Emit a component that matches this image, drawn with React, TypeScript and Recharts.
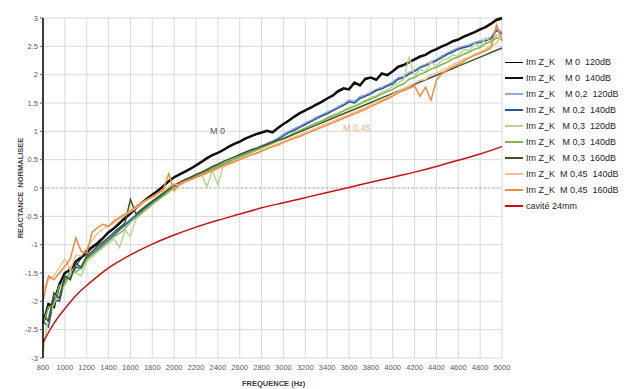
import React from 'react';
import { LineChart, Line, XAxis, YAxis, CartesianGrid, ReferenceLine } from 'recharts';

// frequences de mesure (pas de 50 Hz)
const freqs = [
  800, 850, 900, 950, 1000, 1050, 1100, 1150, 1200, 1250, 1300, 1350, 1400, 1450, 1500, 1550, 1600,
  1650, 1700, 1750, 1800, 1850, 1900, 1950, 2000, 2050, 2100, 2150, 2200, 2250, 2300, 2350, 2400,
  2450, 2500, 2550, 2600, 2650, 2700, 2750, 2800, 2850, 2900, 2950, 3000, 3050, 3100, 3150, 3200,
  3250, 3300, 3350, 3400, 3450, 3500, 3550, 3600, 3650, 3700, 3750, 3800, 3850, 3900, 3950, 4000,
  4050, 4100, 4150, 4200, 4250, 4300, 4350, 4400, 4450, 4500, 4550, 4600, 4650, 4700, 4750, 4800,
  4850, 4900, 4950, 5000,
];

const m0_120 = [
  -2.30, -2.12, -1.95, -1.68, -1.52, -1.40, -1.38, -1.24, -1.17, -1.06, -1.00, -0.90, -0.80, -0.72, -0.64, -0.55, -0.46,
  -0.37, -0.28, -0.20, -0.13, -0.06, 0.02, 0.10, 0.18, 0.23, 0.28, 0.34, 0.39, 0.45, 0.51, 0.57, 0.62,
  0.67, 0.72, 0.77, 0.82, 0.86, 0.91, 0.94, 0.97, 1.00, 1.00, 1.05, 1.12, 1.18, 1.25, 1.31, 1.37,
  1.41, 1.47, 1.51, 1.57, 1.63, 1.69, 1.74, 1.76, 1.83, 1.83, 1.91, 1.94, 1.93, 2.00, 2.01, 2.05,
  2.12, 2.17, 2.21, 2.26, 2.31, 2.35, 2.40, 2.44, 2.49, 2.53, 2.58, 2.62, 2.66, 2.70, 2.75, 2.79,
  2.84, 2.89, 2.95, 2.98,
];
const m0_140 = [
  -2.40, -2.05, -2.10, -1.70, -1.50, -1.45, -1.30, -1.22, -1.12, -1.04, -0.97, -0.88, -0.78, -0.71, -0.62, -0.53, -0.45,
  -0.35, -0.27, -0.19, -0.12, -0.05, 0.03, 0.12, 0.19, 0.24, 0.29, 0.34, 0.40, 0.46, 0.53, 0.58, 0.62,
  0.67, 0.73, 0.78, 0.82, 0.87, 0.91, 0.95, 0.98, 1.01, 0.98, 1.06, 1.13, 1.19, 1.26, 1.32, 1.37,
  1.42, 1.47, 1.52, 1.58, 1.63, 1.71, 1.76, 1.74, 1.86, 1.81, 1.93, 1.95, 1.91, 2.02, 1.99, 2.06,
  2.14, 2.17, 2.22, 2.27, 2.32, 2.35, 2.41, 2.45, 2.50, 2.54, 2.59, 2.62, 2.67, 2.71, 2.75, 2.80,
  2.84, 2.90, 2.97, 3.00,
];
const m02_120 = [
  -2.28, -2.30, -1.90, -1.92, -1.58, -1.52, -1.37, -1.38, -1.21, -1.13, -1.05, -0.98, -0.90, -0.81, -0.72, -0.64, -0.55,
  -0.47, -0.39, -0.31, -0.24, -0.17, -0.10, -0.03, 0.04, 0.09, 0.14, 0.18, 0.23, 0.27, 0.31, 0.36, 0.40,
  0.44, 0.48, 0.52, 0.57, 0.61, 0.65, 0.69, 0.74, 0.79, 0.83, 0.88, 0.95, 1.00, 1.05, 1.09, 1.15,
  1.19, 1.25, 1.29, 1.34, 1.38, 1.44, 1.48, 1.55, 1.53, 1.61, 1.64, 1.69, 1.74, 1.78, 1.82, 1.87,
  1.95, 1.97, 2.04, 2.08, 2.14, 2.18, 2.23, 2.27, 2.33, 2.38, 2.43, 2.47, 2.50, 2.53, 2.57, 2.60,
  2.62, 2.66, 2.82, 2.75,
];
const m02_140 = [
  -2.35, -2.45, -1.95, -2.00, -1.62, -1.58, -1.40, -1.42, -1.24, -1.16, -1.08, -1.00, -0.92, -0.83, -0.74, -0.66, -0.57,
  -0.49, -0.41, -0.33, -0.26, -0.19, -0.12, -0.05, 0.02, 0.07, 0.12, 0.17, 0.21, 0.26, 0.30, 0.34, 0.38,
  0.42, 0.46, 0.50, 0.55, 0.59, 0.63, 0.67, 0.72, 0.77, 0.81, 0.86, 0.92, 0.98, 1.02, 1.07, 1.12,
  1.17, 1.22, 1.27, 1.31, 1.36, 1.41, 1.46, 1.52, 1.50, 1.58, 1.62, 1.66, 1.72, 1.75, 1.80, 1.84,
  1.92, 1.95, 2.01, 2.06, 2.12, 2.16, 2.20, 2.25, 2.30, 2.36, 2.40, 2.45, 2.48, 2.50, 2.55, 2.57,
  2.60, 2.63, 2.78, 2.72,
];
const m03_120 = [
  -2.90, -2.25, -2.05, -1.85, -1.72, -1.52, -1.50, -1.55, -1.30, -1.22, -1.13, -1.05, -0.98, -0.90, -1.05, -0.75, -0.85,
  -0.55, -0.46, -0.38, -0.30, -0.22, -0.15, -0.08, 0.00, 0.05, 0.10, 0.15, 0.19, 0.24, 0.02, 0.31, 0.05,
  0.40, 0.44, 0.49, 0.53, 0.57, 0.61, 0.66, 0.70, 0.74, 0.78, 0.83, 0.87, 0.93, 0.97, 1.02, 1.06,
  1.11, 1.15, 1.19, 1.24, 1.28, 1.32, 1.37, 1.42, 1.45, 1.50, 1.54, 1.60, 1.63, 1.70, 1.72, 1.80,
  1.85, 1.92, 2.30, 1.98, 2.10, 2.05, 2.22, 2.15, 2.25, 2.28, 2.35, 2.32, 2.45, 2.42, 2.55, 2.50,
  2.65, 2.58, 2.70, 2.65,
];
const m03_140 = [
  -2.40, -2.10, -2.05, -1.72, -1.70, -1.45, -1.48, -1.42, -1.26, -1.18, -1.10, -1.02, -0.94, -0.86, -0.80, -0.72, -0.60,
  -0.52, -0.44, -0.36, -0.28, -0.21, -0.14, -0.06, 0.01, 0.06, 0.11, 0.16, 0.20, 0.25, 0.29, 0.34, 0.38,
  0.42, 0.47, 0.51, 0.55, 0.59, 0.63, 0.67, 0.71, 0.75, 0.79, 0.84, 0.88, 0.92, 0.97, 1.01, 1.05,
  1.10, 1.14, 1.18, 1.23, 1.27, 1.31, 1.36, 1.40, 1.44, 1.48, 1.53, 1.57, 1.61, 1.66, 1.70, 1.74,
  1.80, 1.84, 1.92, 1.95, 2.01, 2.04, 2.10, 2.13, 2.18, 2.22, 2.28, 2.31, 2.36, 2.40, 2.45, 2.48,
  2.55, 2.58, 2.65, 2.62,
];
const m03_160 = [
  -2.25, -2.35, -1.85, -1.95, -1.55, -1.62, -1.33, -1.40, -1.20, -1.12, -1.02, -0.95, -0.87, -0.78, -0.70, -0.62, -0.20,
  -0.46, -0.38, -0.30, -0.23, -0.16, -0.09, -0.02, 0.05, 0.10, 0.15, 0.19, 0.24, 0.28, 0.33, 0.38, 0.42,
  0.47, 0.51, 0.55, 0.59, 0.63, 0.67, 0.70, 0.74, 0.77, 0.81, 0.84, 0.87, 0.91, 0.95, 0.99, 1.03,
  1.07, 1.11, 1.15, 1.19, 1.23, 1.27, 1.31, 1.35, 1.39, 1.43, 1.47, 1.51, 1.55, 1.59, 1.63, 1.67,
  1.71, 1.75, 1.79, 1.83, 1.87, 1.91, 1.95, 1.99, 2.03, 2.07, 2.11, 2.15, 2.19, 2.23, 2.27, 2.31,
  2.35, 2.39, 2.43, 2.47,
];
const m045_140 = [
  -1.80, -1.62, -1.55, -1.40, -1.25, -1.45, -1.18, -1.20, -1.05, -0.92, -0.80, -0.72, -0.66, -0.62, -0.55, -0.48, -0.42,
  -0.35, -0.28, -0.22, -0.17, -0.10, -0.05, 0.02, 0.08, 0.04, 0.10, 0.14, 0.18, 0.22, 0.26, 0.30, 0.34,
  0.38, 0.42, 0.46, 0.50, 0.54, 0.58, 0.62, 0.66, 0.70, 0.74, 0.78, 0.82, 0.86, 0.90, 0.94, 0.98,
  1.02, 1.06, 1.10, 1.14, 1.18, 1.22, 1.26, 1.30, 1.34, 1.38, 1.42, 1.47, 1.51, 1.56, 1.60, 1.65,
  1.70, 1.75, 1.80, 1.85, 1.90, 1.92, 2.00, 2.02, 2.08, 2.12, 2.18, 2.22, 2.28, 2.30, 2.36, 2.40,
  2.45, 2.52, 2.55, 2.70,
];
const m045_160 = [
  -2.00, -1.55, -1.62, -1.50, -1.38, -1.25, -0.88, -1.12, -1.15, -0.78, -0.70, -0.64, -0.68, -0.58, -0.52, -0.46, -0.40,
  -0.33, -0.26, -0.20, -0.15, -0.09, -0.03, 0.25, -0.05, 0.08, 0.12, 0.15, 0.19, 0.23, 0.27, 0.31, 0.35,
  0.39, 0.43, 0.46, 0.50, 0.54, 0.58, 0.61, 0.65, 0.69, 0.73, 0.76, 0.80, 0.84, 0.88, 0.91, 0.95,
  0.99, 1.03, 1.07, 1.11, 1.15, 1.19, 1.23, 1.27, 1.31, 1.35, 1.39, 1.44, 1.48, 1.53, 1.57, 1.62,
  1.68, 1.72, 1.76, 1.80, 1.62, 1.78, 1.55, 1.90, 2.02, 2.08, 2.14, 2.18, 2.24, 2.30, 2.34, 2.38,
  2.42, 2.48, 2.88, 2.60,
];

// cavite 24mm
const cavFreqs = [800, 850, 900, 950, 1000, 1100, 1200, 1300, 1400, 1500, 1600, 1800, 2000, 2200, 2400, 2600, 2800, 3000, 3200, 3400, 3600, 3800, 4000, 4200, 4400, 4600, 4800, 5000];
const cav24 = [-2.73, -2.55, -2.39, -2.25, -2.13, -1.90, -1.72, -1.56, -1.41, -1.29, -1.18, -0.99, -0.83, -0.69, -0.57, -0.46, -0.35, -0.26, -0.17, -0.08, 0.01, 0.10, 0.19, 0.28, 0.38, 0.49, 0.60, 0.73];

const xTicks = [800, 1000, 1200, 1400, 1600, 1800, 2000, 2200, 2400, 2600, 2800, 3000, 3200, 3400, 3600, 3800, 4000, 4200, 4400, 4600, 4800, 5000];
const yTicks = [-3, -2.5, -2, -1.5, -1, -0.5, 0, 0.5, 1, 1.5, 2, 2.5, 3];

const series = [
  { key: 'm0_120', name: 'Im Z_K    M 0  120dB', color: '#000000', width: 1, values: m0_120 },
  { key: 'm0_140', name: 'Im Z_K    M 0  140dB', color: '#111111', width: 2.5, values: m0_140 },
  { key: 'm02_120', name: 'Im Z_K    M 0,2  120dB', color: '#8faadc', width: 1.5, values: m02_120 },
  { key: 'm02_140', name: 'Im Z_K   M 0,2  140dB', color: '#2f5597', width: 1.5, values: m02_140 },
  { key: 'm03_120', name: 'Im Z_K   M 0,3  120dB', color: '#b5d98f', width: 1.5, values: m03_120 },
  { key: 'm03_140', name: 'Im Z_K   M 0,3  140dB', color: '#7fb64e', width: 1.5, values: m03_140 },
  { key: 'm03_160', name: 'Im Z_K   M 0,3  160dB', color: '#3b5a23', width: 1.5, values: m03_160 },
  { key: 'm045_140', name: 'Im Z_K  M 0,45  140dB', color: '#f8c096', width: 1.5, values: m045_140 },
  { key: 'm045_160', name: 'Im Z_K  M 0,45  160dB', color: '#f28a3c', width: 1.5, values: m045_160 },
];

const data = freqs.map((f, i) => {
  const row: Record<string, number> = { f };
  series.forEach(s => { row[s.key] = s.values[i]; });
  return row;
});
const cavData = cavFreqs.map((f, i) => ({ f, cav: cav24[i] }));

const legendItems = [
  ...series.map(s => ({ name: s.name, color: s.color, width: s.width })),
  { name: 'cavité 24mm', color: '#cc1111', width: 1.5 },
];

const tickStyle = { fontSize: 7.5, fill: '#595959', fontFamily: "'Liberation Sans Narrow', 'Liberation Sans', sans-serif" };

export default function App() {
  return (
    <div style={{ position: 'absolute', left: 0, top: 0, width: 628, height: 389, background: '#fff', fontFamily: "'Liberation Sans', sans-serif" }}>
      <LineChart width={628} height={389} margin={{ top: 18, right: 126, bottom: 11, left: 13 }}>
        <CartesianGrid stroke="#d9d9d9" strokeWidth={1} />
        <XAxis
          dataKey="f"
          type="number"
          domain={[800, 5000]}
          ticks={xTicks}
          interval={0}
          axisLine={false}
          tickLine={false}
          tickMargin={1}
          height={20}
          tick={tickStyle}
          allowDuplicatedCategory={false}
        />
        <YAxis
          type="number"
          domain={[-3, 3]}
          ticks={yTicks}
          interval={0}
          width={30}
          axisLine={{ stroke: '#000', strokeWidth: 1.5 }}
          tickLine={{ stroke: '#595959' }}
          tickSize={3}
          tick={tickStyle}
        />
        <ReferenceLine y={0} stroke="#a6a6a6" strokeDasharray="1.5 3" />
        {series.map(s => (
          <Line
            key={s.key}
            data={data}
            dataKey={s.key}
            type="linear"
            stroke={s.color}
            strokeWidth={s.width}
            dot={false}
            isAnimationActive={false}
          />
        ))}
        <Line data={cavData} dataKey="cav" type="monotone" stroke="#cc1111" strokeWidth={1.5} dot={false} isAnimationActive={false} />
      </LineChart>

      <div style={{ position: 'absolute', left: 210, top: 126, fontSize: 9, color: '#595959' }}>M 0</div>
      <div style={{ position: 'absolute', left: 343, top: 123, fontSize: 9, color: '#f4b183' }}>M 0,45</div>

      <div style={{ position: 'absolute', left: 242, top: 379, fontSize: 7.5, fontWeight: 'bold', color: '#404040', whiteSpace: 'pre' }}>FREQUENCE (Hz)</div>
      <div
        style={{
          position: 'absolute', left: 20, top: 188, fontSize: 7.5, fontWeight: 'bold', color: '#404040', whiteSpace: 'pre',
          transform: 'translate(-50%, -50%) rotate(-90deg)',
        }}
      >
        REACTANCE  NORMALISEE
      </div>

      <div style={{ position: 'absolute', left: 505, top: 54 }}>
        {legendItems.map(item => (
          <div key={item.name} style={{ display: 'flex', alignItems: 'center', height: 16 }}>
            <div style={{ width: 18, height: item.width, background: item.color, marginRight: 3 }} />
            <span style={{ fontSize: 9, color: '#262626', whiteSpace: 'pre' }}>{item.name}</span>
          </div>
        ))}
      </div>
    </div>
  );
}
